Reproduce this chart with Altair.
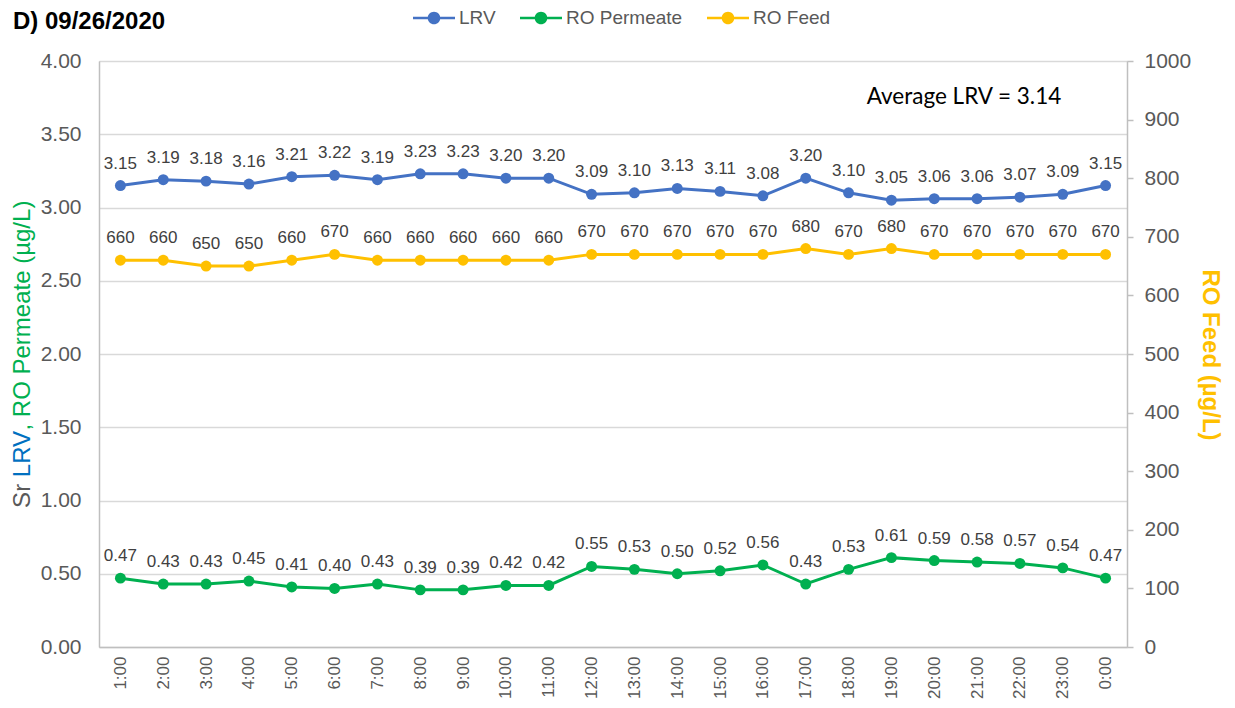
import altair as alt
import pandas as pd

times = ["1:00", "2:00", "3:00", "4:00", "5:00", "6:00", "7:00", "8:00", "9:00", "10:00",
         "11:00", "12:00", "13:00", "14:00", "15:00", "16:00", "17:00", "18:00", "19:00",
         "20:00", "21:00", "22:00", "23:00", "0:00"]
lrv = [3.15, 3.19, 3.18, 3.16, 3.21, 3.22, 3.19, 3.23, 3.23, 3.20, 3.20, 3.09, 3.10, 3.13,
       3.11, 3.08, 3.20, 3.10, 3.05, 3.06, 3.06, 3.07, 3.09, 3.15]
permeate = [0.47, 0.43, 0.43, 0.45, 0.41, 0.40, 0.43, 0.39, 0.39, 0.42, 0.42, 0.55, 0.53,
            0.50, 0.52, 0.56, 0.43, 0.53, 0.61, 0.59, 0.58, 0.57, 0.54, 0.47]
feed = [660, 660, 650, 650, 660, 670, 660, 660, 660, 660, 660, 670, 670, 670, 670, 670, 680,
        670, 680, 670, 670, 670, 670, 670]
series_names = ["LRV", "RO Permeate", "RO Feed"]
series_colors = ["#4472C4", "#00B050", "#FFC000"]
left_ticks = [0, 0.5, 1.0, 1.5, 2.0, 2.5, 3.0, 3.5, 4.0]
right_ticks = [0, 100, 200, 300, 400, 500, 600, 700, 800, 900, 1000]

FONT = "Liberation Sans"
W, H = 1028, 586

left_df = pd.DataFrame({
    "time": times * 2,
    "value": lrv + permeate,
    "series": ["LRV"] * len(times) + ["RO Permeate"] * len(times),
    "label": [f"{v:.2f}" for v in lrv + permeate],
})
feed_df = pd.DataFrame({
    "time": times,
    "value": feed,
    "series": ["RO Feed"] * len(times),
    "label": [str(v) for v in feed],
})

xenc = alt.X("time:N", sort=times, title=None,
             scale=alt.Scale(type="point", padding=0.5),
             axis=alt.Axis(labelAngle=-90, labelFontSize=17, labelColor="#595959",
                           labelPadding=9, ticks=False, domainColor="#BFBFBF",
                           domainWidth=1.5, grid=False, labelFont=FONT))

legend_path = ("M-1,-0.06 L1,-0.06 L1,0.06 L-1,0.06 Z "
               "M0.3,0 A0.3,0.3 0 1,1 -0.3,0 A0.3,0.3 0 1,1 0.3,0 Z")
legend = alt.Legend(orient="none", legendX=314, legendY=-64, direction="horizontal",
                    title=None, symbolType=legend_path, symbolSize=1764,
                    symbolStrokeWidth=0, labelFontSize=19, labelColor="#595959",
                    labelFont=FONT, columnPadding=24, labelOffset=4, padding=0)
color_enc = alt.Color("series:N", scale=alt.Scale(domain=series_names, range=series_colors),
                      legend=legend)

yleft = alt.Y("value:Q", title=None,
              scale=alt.Scale(domain=[0, 4], nice=False, zero=True),
              axis=alt.Axis(orient="left", values=left_ticks, format=".2f",
                            labelFontSize=21, labelColor="#595959", labelFont=FONT,
                            labelPadding=18, ticks=False, domainColor="#BFBFBF",
                            domainWidth=1.5, grid=True, gridColor="#D9D9D9",
                            gridWidth=1.5))
yright = alt.Y("value:Q", title=None,
               scale=alt.Scale(domain=[0, 1000], nice=False),
               axis=alt.Axis(orient="right", values=right_ticks, format="d",
                             labelFontSize=21, labelColor="#595959", labelFont=FONT,
                             labelPadding=11, ticks=True, tickSize=6, tickColor="#BFBFBF",
                             tickWidth=1.5, domainColor="#BFBFBF", domainWidth=1.5,
                             grid=False))

base_left = alt.Chart(left_df)
lrv_line = base_left.transform_filter(alt.datum.series == "LRV").mark_line(
    color="#4472C4", strokeWidth=3).encode(x=xenc, y=yleft)
perm_line = base_left.transform_filter(alt.datum.series == "RO Permeate").mark_line(
    color="#00B050", strokeWidth=3).encode(x=xenc, y=yleft)
left_pts = base_left.mark_point(filled=True, size=120, opacity=1).encode(
    x=xenc, y=yleft, color=color_enc)
left_txt = base_left.mark_text(fontSize=17, color="#404040", dy=-22, font=FONT,
                               baseline="middle").encode(x=xenc, y=yleft, text="label:N")
left_layer = alt.layer(lrv_line, perm_line, left_pts, left_txt)

base_feed = alt.Chart(feed_df)
feed_line = base_feed.mark_line(color="#FFC000", strokeWidth=3).encode(x=xenc, y=yright)
feed_pts = base_feed.mark_point(filled=True, size=120, opacity=1).encode(
    x=xenc, y=yright, color=color_enc)
feed_txt = base_feed.mark_text(fontSize=17, color="#404040", dy=-22, font=FONT,
                               baseline="middle").encode(x=xenc, y=yright, text="label:N")
feed_layer = alt.layer(feed_line, feed_pts, feed_txt)

# annotations
one = pd.DataFrame({"a": [0]})
F = 24
w_sr = 1.278 * F
w_lrv = 1.945 * F
w_rest = 9.6 * F
bottom = H / 2 + (w_sr + w_lrv + w_rest) / 2
TX = -76
t1 = alt.Chart(one).mark_text(text="Sr ", angle=270, align="left", baseline="middle",
                              fontSize=F, color="#595959", font=FONT).encode(
    x=alt.value(TX), y=alt.value(bottom))
t2 = alt.Chart(one).mark_text(text="LRV", angle=270, align="left", baseline="middle",
                              fontSize=F, color="#0070C0", font=FONT).encode(
    x=alt.value(TX), y=alt.value(bottom - w_sr))
t3 = alt.Chart(one).mark_text(text=", RO Permeate (µg/L)", angle=270, align="left",
                              baseline="middle", fontSize=F, color="#00B050",
                              font=FONT).encode(
    x=alt.value(TX), y=alt.value(bottom - w_sr - w_lrv))
right_title = alt.Chart(one).mark_text(text="RO Feed (µg/L)", angle=90, align="center",
                                       baseline="middle", fontSize=24, fontWeight="bold",
                                       color="#FFC000", font=FONT).encode(
    x=alt.value(1111), y=alt.value(H / 2 + 1))
title_txt = alt.Chart(one).mark_text(text="D) 09/26/2020", align="left",
                                     baseline="alphabetic", fontSize=24, fontWeight="bold",
                                     color="#000000", font=FONT).encode(
    x=alt.value(-86), y=alt.value(-32))
avg_txt = alt.Chart(one).mark_text(text="Average LRV = 3.14", align="center",
                                   baseline="middle", fontSize=22.5, color="#000000",
                                   font="Lato").encode(x=alt.value(865), y=alt.value(36))

chart = alt.layer(left_layer, feed_layer, t1, t2, t3, right_title, title_txt,
                  avg_txt).resolve_scale(
    y="independent"
).properties(
    width=W, height=H,
    padding={"left": 91, "top": 53, "right": 100, "bottom": 53},
    autosize=alt.AutoSizeParams(type="none"),
).configure_view(stroke=None).configure(font=FONT)

chart.save("out.html", embed_options={"renderer": "svg", "actions": False})
